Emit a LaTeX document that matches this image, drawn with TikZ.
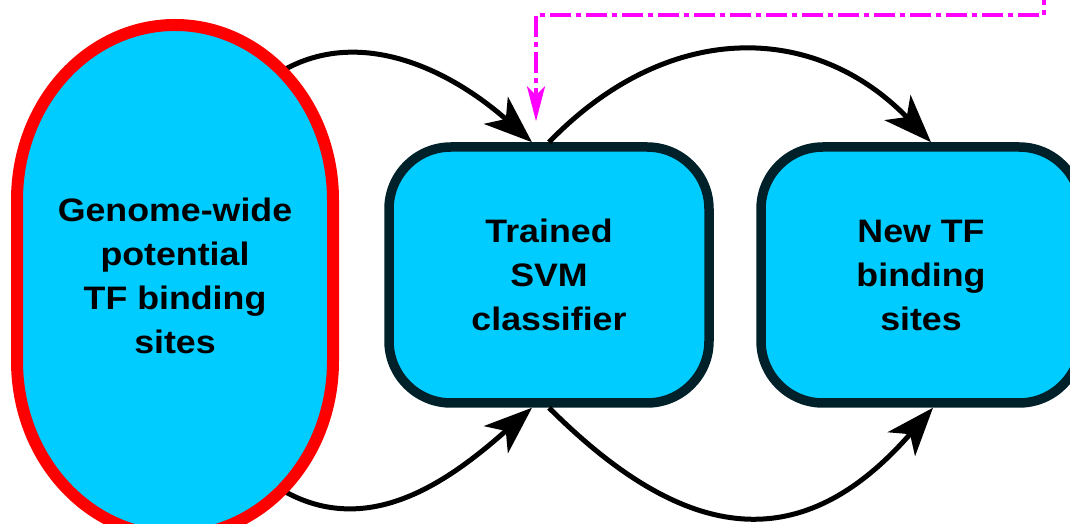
\documentclass[tikz,border=0pt]{standalone}
\usepackage{fontspec}
\setsansfont[FakeStretch=1.1]{Liberation Sans}
\usetikzlibrary{arrows.meta,calc}
\definecolor{boxfill}{HTML}{00CCFF}
\definecolor{boxline}{HTML}{00202A}
\definecolor{redline}{HTML}{FF0000}
\definecolor{magline}{HTML}{FF00FF}
\pgfdeclarelayer{front}
\pgfsetlayers{main,front}
\begin{document}
\begin{tikzpicture}[x=1pt,y=1pt,
  lbl/.style={font=\sffamily\bfseries\fontsize{32.5}{44}\selectfont, align=center, text=black},
  stagebox/.style={lbl, draw=boxline, fill=boxfill, line width=9.5pt, rounded corners=62pt,
    minimum width=320pt, minimum height=256pt, inner sep=0pt},
  startshape/.style={draw=redline, fill=boxfill, line width=12pt},
  flow/.style={draw=black, line width=5pt, -{Stealth[length=48pt,width=36pt,inset=13pt]}},
  feedback/.style={draw=magline, line width=4pt, dash pattern=on 21pt off 5pt on 5pt off 5pt,
    -{Stealth[length=35pt,width=18pt,inset=9pt]}, shorten >=21pt}]
\useasboundingbox (0,0) rectangle (1070,524);
\node[stagebox] (M) at (549,249) {Trained\\SVM\\classifier};
\node[stagebox] (R) at (921,249) {New TF\\binding\\sites};
\begin{pgfonlayer}{front}
\path[startshape] (17,324) -- (17,163)
  arc[start angle=180, end angle=360, x radius=158, y radius=175] -- (333,324)
  arc[start angle=0, end angle=180, x radius=158, y radius=175] -- cycle;
\node[lbl] (L) at (175,248) {Genome-wide\\potential\\TF binding\\sites};
\end{pgfonlayer}
\draw[flow] ($(L.center)+(107,205)$) .. controls +(30:90) and +(138.5:110) .. ($(M.north)+(-17,0)$);
\draw[flow] ($(L.center)+(107,-214)$) .. controls +(-30:100) and +(-138.5:110) .. ($(M.south)+(-17,0)$);
\draw[flow] (M.north) .. controls +(46:169) and +(134:169) .. ($(R.north)+(10,0)$);
\draw[flow] (M.south) .. controls +(-45:197) and +(-131:197) .. ($(R.south)+(12,0)$);
\coordinate (fbsrc) at (1044,540);
\coordinate (fbend) at ($(M.north)+(-13,0)$);
\draw[feedback] (fbsrc) |- ($(fbend)+(0,127)$) -- (fbend);
\end{tikzpicture}
\end{document}
